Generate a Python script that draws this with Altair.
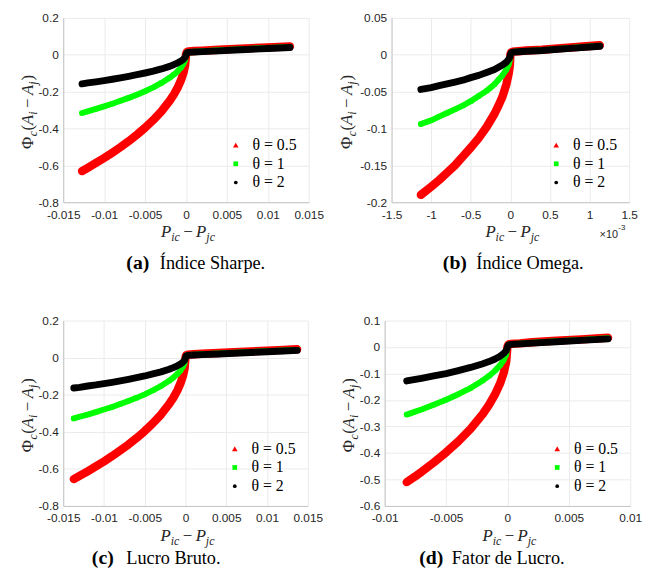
import altair as alt
import pandas as pd

SERIES = ["θ = 0.5", "θ = 1", "θ = 2"]
COLORS = ["#ff0000", "#00ff00", "#000000"]
SHAPES = ["triangle-up", "square", "circle"]
MARK_SIZES = [32, 14, 28]
BAND = [8.5, 6, 7]

# (a) Índice Sharpe
A_X = [-0.0127, -0.012, -0.011, -0.010, -0.009, -0.008, -0.007, -0.006, -0.005, -0.004, -0.003, -0.002,
       -0.0015, -0.001, -0.0006, -0.0003, -0.0001, 0.0, 0.00005, 0.0001, 0.0003, 0.001, 0.002, 0.004,
       0.006, 0.008, 0.010, 0.0127]
A_T05 = [-0.631, -0.613, -0.587, -0.56, -0.531, -0.501, -0.469, -0.434, -0.396, -0.354, -0.307, -0.25, -0.217,
         -0.177, -0.137, -0.097, -0.056, 0.0, 0.008, 0.014, 0.018, 0.020, 0.022, 0.027, 0.032, 0.036, 0.040, 0.045]
A_T1 = [-0.316, -0.307, -0.294, -0.28, -0.266, -0.25, -0.234, -0.217, -0.198, -0.177, -0.153, -0.125, -0.108,
        -0.089, -0.069, -0.048, -0.028, 0.0, 0.007, 0.012, 0.015, 0.017, 0.019, 0.024, 0.029, 0.033, 0.037, 0.042]
A_T2 = [-0.158, -0.153, -0.147, -0.14, -0.133, -0.125, -0.117, -0.108, -0.099, -0.089, -0.077, -0.063, -0.054,
        -0.044, -0.034, -0.024, -0.014, 0.0, 0.006, 0.010, 0.013, 0.015, 0.017, 0.021, 0.026, 0.030, 0.034, 0.039]

# (b) Índice Omega (x in units of 1e-3)
B_X = [-1.13, -1.0, -0.9, -0.8, -0.7, -0.6, -0.5, -0.4, -0.3, -0.2, -0.15, -0.1, -0.05, -0.02, -0.005, 0.0,
       0.005, 0.01, 0.03, 0.1, 0.2, 0.4, 0.6, 0.8, 1.0, 1.13]
B_T05 = [-0.19, -0.179, -0.17, -0.16, -0.15, -0.138, -0.126, -0.113, -0.098, -0.08, -0.069, -0.057, -0.040,
         -0.025, -0.013, 0.0, 0.0018, 0.003, 0.0042, 0.0048, 0.0057, 0.0068, 0.0086, 0.0102, 0.0118, 0.0128]
B_T1 = [-0.094, -0.089, -0.084, -0.079, -0.074, -0.069, -0.063, -0.056, -0.049, -0.040, -0.034, -0.028, -0.020,
        -0.013, -0.006, 0.0, 0.0016, 0.0027, 0.0038, 0.0044, 0.0052, 0.0063, 0.008, 0.0096, 0.0111, 0.0122]
B_T2 = [-0.047, -0.0445, -0.042, -0.0395, -0.037, -0.0345, -0.031, -0.028, -0.024, -0.020, -0.017, -0.014,
        -0.010, -0.006, -0.003, 0.0, 0.0015, 0.0025, 0.0035, 0.004, 0.0048, 0.0058, 0.0075, 0.009, 0.0105, 0.0115]

# (c) Lucro Bruto
C_X = [-0.0137, -0.013, -0.012, -0.011, -0.010, -0.009, -0.008, -0.007, -0.006, -0.005, -0.004, -0.003,
       -0.002, -0.0015, -0.001, -0.0006, -0.0003, -0.0001, 0.0, 0.00005, 0.0001, 0.0003, 0.001, 0.002,
       0.004, 0.006, 0.008, 0.010, 0.012, 0.0137]
C_T05 = [-0.655, -0.638, -0.613, -0.587, -0.56, -0.531, -0.50, -0.469, -0.434, -0.396, -0.354, -0.307, -0.25,
         -0.217, -0.177, -0.137, -0.097, -0.056, 0.0, 0.008, 0.013, 0.016, 0.018, 0.021, 0.025, 0.030, 0.034,
         0.038, 0.042, 0.045]
C_T1 = [-0.328, -0.319, -0.307, -0.294, -0.28, -0.266, -0.25, -0.234, -0.217, -0.198, -0.177, -0.153, -0.125,
        -0.108, -0.088, -0.069, -0.048, -0.028, 0.0, 0.007, 0.0115, 0.014, 0.016, 0.0185, 0.0225, 0.027, 0.031,
        0.035, 0.039, 0.042]
C_T2 = [-0.164, -0.16, -0.153, -0.147, -0.14, -0.133, -0.125, -0.117, -0.108, -0.099, -0.088, -0.077, -0.063,
        -0.054, -0.044, -0.034, -0.024, -0.014, 0.0, 0.006, 0.010, 0.012, 0.014, 0.016, 0.020, 0.024, 0.028,
        0.032, 0.036, 0.039]

# (d) Fator de Lucro
D_X = [-0.0082, -0.0075, -0.007, -0.006, -0.005, -0.004, -0.003, -0.002, -0.0015, -0.001, -0.0006, -0.0003,
       -0.0001, 0.0, 0.00005, 0.0001, 0.0003, 0.0006, 0.001, 0.002, 0.004, 0.006, 0.0082]
D_T05 = [-0.51, -0.488, -0.471, -0.436, -0.398, -0.356, -0.309, -0.252, -0.218, -0.178, -0.138, -0.097, -0.056,
         0.0, 0.006, 0.010, 0.012, 0.013, 0.014, 0.018, 0.024, 0.029, 0.035]
D_T1 = [-0.255, -0.244, -0.236, -0.218, -0.199, -0.178, -0.155, -0.126, -0.109, -0.089, -0.069, -0.049, -0.028,
        0.0, 0.0055, 0.009, 0.011, 0.012, 0.013, 0.0165, 0.022, 0.027, 0.033]
D_T2 = [-0.128, -0.122, -0.118, -0.109, -0.1, -0.089, -0.077, -0.063, -0.055, -0.045, -0.035, -0.024, -0.014,
        0.0, 0.005, 0.008, 0.010, 0.011, 0.012, 0.015, 0.020, 0.025, 0.031]

TICKS_015 = [-0.015, -0.01, -0.005, 0, 0.005, 0.01, 0.015]
TICKS_B_X = [-1.5, -1, -0.5, 0, 0.5, 1, 1.5]
TICKS_D_X = [-0.01, -0.005, 0, 0.005, 0.01]
TICKS_A_Y = [-0.8, -0.6, -0.4, -0.2, 0, 0.2]
TICKS_B_Y = [-0.2, -0.15, -0.1, -0.05, 0, 0.05]
TICKS_D_Y = [-0.6, -0.5, -0.4, -0.3, -0.2, -0.1, 0, 0.1]

SERIF = "Liberation Serif"
SANS = "Liberation Sans"
AXIS_GRAY = "#262626"

IT = {"P": 0.611, "i": 0.278, "c": 0.444, "j": 0.278, "A": 0.611}
RM = {"Φ": 0.76, "(": 0.333, ")": 0.333, "−": 0.564}


def wid(text, size, style):
    tab = IT if style == "italic" else RM
    return sum(tab.get(ch, 0.5) for ch in text) * size


def one_row():
    return pd.DataFrame({"k": [0]})


def txt(text, x, y, size, style="normal", weight="normal", angle=0, font=SERIF, color=AXIS_GRAY):
    return alt.Chart(one_row()).mark_text(
        text=text, font=font, fontSize=size, fontStyle=style, fontWeight=weight, angle=angle,
        align="left", baseline="alphabetic", color=color
    ).encode(x=alt.value(x), y=alt.value(y))


def frame(x1, y1, x2, y2):
    # invisible layout frame that fixes the panel's outer bounds
    return alt.Chart(one_row()).mark_rule(opacity=0, strokeWidth=0.01).encode(
        x=alt.value(x1), y=alt.value(y1), x2=alt.value(x2), y2=alt.value(y2))


def math_text(pieces, cx, cy, angle=0):
    total = sum(wid(t, s, st) + g for t, s, st, sh, g in pieces)
    out = []
    pos = -total / 2
    for t, s, st, sh, g in pieces:
        if angle == 0:
            out.append(txt(t, cx + pos, cy + sh, s, style=st))
        else:
            out.append(txt(t, cx + sh, cy - pos, s, style=st, angle=270))
        pos += wid(t, s, st) + g
    return out


X_TITLE = [("P", 17, "italic", 0, 0), ("ic", 12, "italic", 4, 3.5), ("−", 17, "normal", 0, 3.5),
           ("P", 17, "italic", 0, 0), ("jc", 12, "italic", 4, 0)]
Y_TITLE = [("Φ", 17, "normal", 0, 0), ("c", 12, "italic", 4, 0.5), ("(", 17, "normal", 0, 0),
           ("A", 17, "italic", 0, 0), ("i", 12, "italic", 4, 3.5), ("−", 17, "normal", 0, 3.5),
           ("A", 17, "italic", 0, 0), ("j", 12, "italic", 4, 1), (")", 17, "normal", 0, 0)]


def panel(xs, ys3, xdom, ydom, xticks, yticks, W, H, ytx, xty, cap_bold, cap_rest, cap_x, cap_rx, cap_y,
          box, extra=None):
    xscale = alt.Scale(domain=xdom, nice=False, zero=False)
    yscale = alt.Scale(domain=ydom, nice=False, zero=False)
    common = dict(grid=True, gridColor="#ebebeb", gridWidth=1, domainColor="#c4c4c4", domainWidth=1,
                  ticks=False, labelFont=SANS, labelFontSize=12, labelColor=AXIS_GRAY, title=None,
                  labelFlush=False, labelOverlap=False, labelBound=False, labelExpr="'' + datum.value")
    xaxis = alt.Axis(values=xticks, labelPadding=7, **common)
    yaxis = alt.Axis(values=yticks, labelPadding=5, **common)
    leg = alt.Legend(title=None, orient="bottom-right", offset=12, padding=0, labelFont=SERIF,
                     labelFontSize=16, labelColor="black", rowPadding=3, labelOffset=9,
                     symbolStrokeWidth=0, symbolOpacity=1)
    layers = []
    for i, ys in enumerate(ys3):
        df = pd.DataFrame({"x": xs, "y": ys, "s": SERIES[i]})
        base = alt.Chart(df).encode(
            x=alt.X("x:Q", scale=xscale, axis=xaxis),
            y=alt.Y("y:Q", scale=yscale, axis=yaxis),
        )
        line = base.mark_line(color=COLORS[i], strokeWidth=BAND[i], strokeCap="round", strokeJoin="round")
        pts = base.mark_point(filled=True, opacity=1, strokeWidth=0).encode(
            fill=alt.Fill("s:N", scale=alt.Scale(domain=SERIES, range=COLORS), legend=leg),
            shape=alt.Shape("s:N", scale=alt.Scale(domain=SERIES, range=SHAPES), legend=leg),
            size=alt.Size("s:N", scale=alt.Scale(domain=SERIES, range=MARK_SIZES), legend=leg),
        )
        layers += [line, pts]
    layers += math_text(X_TITLE, W / 2 + 2, xty)
    layers += math_text(Y_TITLE, ytx, H / 2 + 2, angle=270)
    layers.append(txt(cap_bold, cap_x, cap_y, 20, weight="bold", color="black"))
    layers.append(txt(cap_rest, cap_rx, cap_y, 18.5, color="black"))
    L, T, R, B = box
    layers.append(frame(-L, -T, W + R, H + B))
    if extra:
        layers += extra
    return alt.layer(*layers).properties(width=W, height=H)


pa = panel(A_X, [A_T05, A_T1, A_T2], [-0.015, 0.015], [-0.8, 0.2], TICKS_015, TICKS_A_Y, 249, 187,
           -31, 222, "(a)", "Índice Sharpe.", 64, 98, 255, box=(51, 0, 17, 75))
pb = panel(B_X, [B_T05, B_T1, B_T2], [-1.5, 1.5], [-0.2, 0.05], TICKS_B_X, TICKS_B_Y, 241, 187,
           -40, 222, "(b)", "Índice Omega.", 52, 86, 255, box=(60, 0, 10, 75),
           extra=[txt("×10", 211, 223, 11, font=SANS), txt("-3", 230, 215.5, 8, font=SANS)])
pc = panel(C_X, [C_T05, C_T1, C_T2], [-0.015, 0.015], [-0.8, 0.2], TICKS_015, TICKS_A_Y, 248, 188,
           -31, 224, "(c)", "Lucro Bruto.", 29, 64, 247, box=(56, 8, 17, 0))
pd_ = panel(D_X, [D_T05, D_T1, D_T2], [-0.01, 0.01], [-0.6, 0.1], TICKS_D_X, TICKS_D_Y, 249, 188,
            -31, 224, "(d)", "Fator de Lucro.", 35, 68, 247, box=(50, 8, 11, 0))

row1 = alt.hconcat(pa, pb, spacing=7).resolve_scale(fill="independent", shape="independent",
                                                     size="independent")
row2 = alt.hconcat(pc, pd_, spacing=11).resolve_scale(fill="independent", shape="independent",
                                                      size="independent")
chart = alt.vconcat(row1, row2, spacing=37).resolve_scale(
    fill="independent", shape="independent", size="independent"
).properties(
    padding={"left": 0, "top": 0, "right": 0, "bottom": 0},
    background="white",
).configure_view(stroke=None)

chart.save("out.html", embed_options={"renderer": "svg", "actions": False})
